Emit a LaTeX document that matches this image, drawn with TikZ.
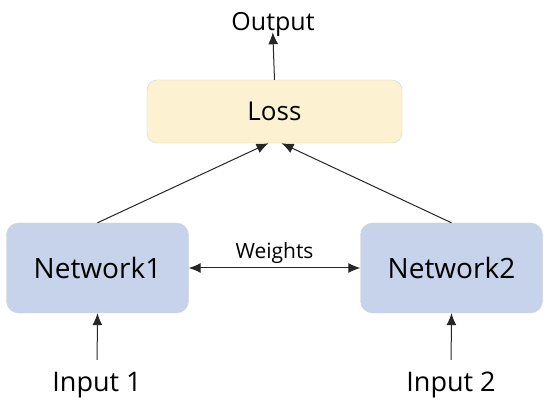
\documentclass[tikz,border=0pt]{standalone}
\usepackage{fontspec}
\setmainfont{Open Sans}
\usetikzlibrary{arrows.meta,positioning}

\begin{document}
\begin{tikzpicture}[
  x=1pt, y=1pt,
  netbox/.style={draw=black!18, rounded corners=12pt, align=center, minimum width=182pt, minimum height=90pt, fill=netblue, font=\fontsize{28}{32}\selectfont},
  lossbox/.style={draw=black!18, rounded corners=10pt, align=center, minimum width=255pt, minimum height=63pt, fill=lossyellow, font=\fontsize{26}{30}\selectfont},
  label/.style={inner sep=2pt, font=\fontsize{27}{32}\selectfont},
  arrow/.style={-{Latex[length=12pt,width=10pt]}, line width=1pt, draw=black!85},
  both/.style={{Latex[length=12pt,width=10pt]}-{Latex[length=12pt,width=10pt]}, line width=1pt, draw=black!85}
]
\definecolor{netblue}{HTML}{C7D2EB}
\definecolor{lossyellow}{HTML}{FCF2D2}

\useasboundingbox (0,0) rectangle (550,412);

\node[lossbox] (loss) at (274.5,300.5) {Loss};
\node[label, font=\fontsize{25}{30}\selectfont] (out) at (273,388) {Output};

\node[netbox] (net1) at (97.5,144) {Network1};
\node[netbox] (net2) at (451.5,144) {Network2};

\node[label] (in1) at (97,27) {Input 1};
\node[label] (in2) at (451,27) {Input 2};

\draw[arrow, shorten >=-6pt] (loss.north) -- (out.south);
\draw[arrow] (net1.north) -- ([xshift=-6pt]loss.south);
\draw[arrow] (net2.north) -- ([xshift=7pt]loss.south);
\draw[both] (net1.east) -- node[above=1pt, font=\fontsize{21}{26}\selectfont] (wt) {Weights} (net2.west);
\draw[arrow, shorten <=10pt] (in1.north) -- (net1.south);
\draw[arrow, shorten <=10pt] (in2.north) -- (net2.south);

\end{tikzpicture}
\end{document}
